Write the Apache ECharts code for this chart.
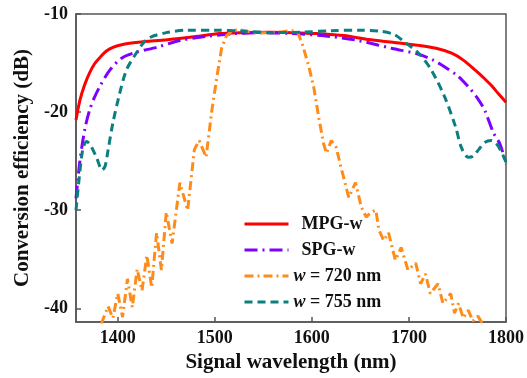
<!DOCTYPE html>
<html>
<head>
<meta charset="utf-8">
<script src="https://cdn.jsdelivr.net/npm/echarts@6/dist/echarts.min.js"></script>
<style>html,body{margin:0;padding:0;background:#fff}#c{width:527px;height:378px}</style>
</head>
<body>
<div id="c"></div>
<script>
var xTicks = [1400, 1500, 1600, 1700, 1800];
var yTicks = [-40, -30, -20, -10];

var mpgX = [1357,1361,1366,1371,1376,1382,1388,1395,1405,1419,1435,1453,1480,1505,1530,1555,1580,1605,1633,1658,1685,1710,1728,1744,1756,1768,1778,1785,1792,1800];
var mpgY = [-20.8,-18.8,-17.2,-16.0,-15.1,-14.4,-13.8,-13.4,-13.1,-12.9,-12.75,-12.6,-12.3,-12.0,-11.9,-11.85,-11.9,-12.0,-12.2,-12.6,-12.9,-13.2,-13.5,-14.0,-14.7,-15.7,-16.6,-17.3,-18.1,-19.0];

var spgX = [1357,1361,1366,1371,1376,1382,1392,1404,1419,1440,1464,1490,1520,1550,1580,1610,1645,1682,1710,1725,1737,1750,1761,1770,1778,1787,1794,1800];
var spgY = [-28.8,-25.0,-21.8,-19.8,-18.5,-17.3,-15.7,-14.5,-13.9,-13.4,-12.7,-12.3,-12.0,-11.9,-12.0,-12.2,-12.65,-13.5,-14.1,-14.7,-15.4,-16.3,-17.4,-18.5,-19.8,-22.1,-23.3,-25.3];

var w720X = [1383,1390,1395,1400,1405,1410,1415,1420,1425,1430,1435,1440,1445,1450,1456,1464,1472,1479,1484,1491,1497,1502,1507,1512,1518,1525,1540,1555,1570,1578,1585,1590,1597,1602,1607,1612,1615,1620,1625,1631,1638,1645,1651,1656,1661,1666,1669,1674,1679,1686,1692,1699,1707,1712,1717,1722,1730,1735,1743,1747,1751,1756,1761,1766,1771,1776];
var w720Y = [-41.6,-39.8,-41.0,-38.5,-40.9,-37.0,-39.9,-36.0,-38.2,-34.6,-37.9,-32.3,-36.1,-30.2,-33.4,-27.2,-30.0,-23.8,-22.9,-24.6,-19.8,-16.5,-13.5,-12.2,-11.7,-11.6,-11.9,-11.9,-11.8,-11.7,-11.8,-13.0,-15.4,-17.5,-20.5,-23.2,-24.2,-22.9,-23.6,-26.0,-28.7,-27.2,-29.7,-30.7,-30.2,-30.0,-32.0,-33.1,-32.3,-35.1,-33.8,-36.1,-35.4,-37.5,-36.5,-38.5,-37.5,-39.5,-38.5,-40.5,-39.5,-41.0,-40.2,-41.3,-40.8,-41.6];

var w755X = [1357,1360,1364,1368,1372,1378,1384,1387,1390,1395,1402,1409,1419,1426,1433,1450,1471,1500,1530,1560,1590,1620,1650,1670,1685,1696,1710,1723,1737,1748,1754,1761,1766,1772,1778,1785,1790,1795,1800];
var w755Y = [-30.0,-27.0,-23.8,-23.0,-23.4,-24.6,-25.9,-25.5,-23.9,-21.1,-18.1,-15.7,-14.0,-13.0,-12.4,-11.9,-11.65,-11.65,-11.75,-11.9,-11.85,-11.7,-11.65,-11.75,-12.1,-12.9,-14.0,-15.7,-18.5,-21.5,-23.6,-24.6,-24.5,-23.8,-23.1,-22.9,-23.2,-24.0,-25.1];

var names = ['MPG-w', 'SPG-w', 'w = 720 nm', 'w = 755 nm'];

function zip(xs, ys) { return xs.map(function (x, i) { return [x, ys[i]]; }); }
function plain(v) { return String(v); }

var font = 'Liberation Serif';
var chart = echarts.init(document.getElementById('c'), null, {renderer: 'canvas'});
chart.setOption({
  animation: false,
  backgroundColor: '#fff',
  grid: {left: 76, top: 14, right: 19, bottom: 56, show: true, borderColor: '#555', borderWidth: 1.5, backgroundColor: 'transparent'},
  legend: {
    orient: 'vertical', left: 238, top: 210,
    itemWidth: 44, itemHeight: 14, itemGap: 8,
    data: names,
    itemStyle: {opacity: 0},
    lineStyle: {width: 3},
    formatter: function (n) {
      if (n.charAt(0) === 'w') return '{i|w}{t|' + n.slice(1) + '}';
      return '{p|' + n + '}';
    },
    textStyle: {
      fontFamily: font, fontWeight: 'bold', fontSize: 18, color: '#111',
      rich: {
        i: {fontFamily: font, fontWeight: 'bold', fontStyle: 'italic', fontSize: 18, color: '#111'},
        t: {fontFamily: font, fontWeight: 'bold', fontSize: 18, color: '#111'},
        p: {fontFamily: font, fontWeight: 'bold', fontSize: 18, color: '#111', padding: [0, 0, 0, 8]}
      }
    }
  },
  xAxis: {
    type: 'value', min: 1357, max: 1800,
    name: 'Signal wavelength (nm)', nameLocation: 'middle', nameGap: 30,
    nameTextStyle: {fontFamily: font, fontWeight: 'bold', fontSize: 21, color: '#111'},
    axisLine: {show: true, lineStyle: {color: '#555', width: 1.5}},
    axisTick: {show: true, inside: true, length: 5, customValues: xTicks, lineStyle: {color: '#555', width: 1.5}},
    axisLabel: {customValues: xTicks, formatter: plain, margin: 7, fontFamily: font, fontWeight: 'bold', fontSize: 18, color: '#111'},
    splitLine: {show: false}
  },
  yAxis: {
    type: 'value', min: -41.4, max: -10,
    name: 'Conversion efficiency (dB)', nameLocation: 'middle', nameGap: 42,
    nameTextStyle: {fontFamily: font, fontWeight: 'bold', fontSize: 21, color: '#111'},
    axisLine: {show: true, lineStyle: {color: '#555', width: 1.5}},
    axisTick: {show: true, inside: true, length: 5, customValues: yTicks, lineStyle: {color: '#555', width: 1.5}},
    axisLabel: {customValues: yTicks, formatter: plain, margin: 8, fontFamily: font, fontWeight: 'bold', fontSize: 18, color: '#111'},
    splitLine: {show: false}
  },
  series: [
    {name: names[0], type: 'line', data: zip(mpgX, mpgY), symbol: 'none', smooth: 0.3, color: '#ff0000',
     lineStyle: {color: '#ff0000', width: 3}},
    {name: names[1], type: 'line', data: zip(spgX, spgY), symbol: 'none', smooth: 0.3, color: '#8000ff',
     lineStyle: {color: '#8000ff', width: 3, type: [13, 5, 2, 5]}},
    {name: names[2], type: 'line', data: zip(w720X, w720Y), symbol: 'none', smooth: false, color: '#ff8c1a',
     lineStyle: {color: '#ff8c1a', width: 3, type: [9, 4, 2, 4]}},
    {name: names[3], type: 'line', data: zip(w755X, w755Y), symbol: 'none', smooth: 0.3, color: '#0b7f7f',
     lineStyle: {color: '#0b7f7f', width: 3, type: [8, 5]}}
  ]
});
</script>
</body>
</html>
